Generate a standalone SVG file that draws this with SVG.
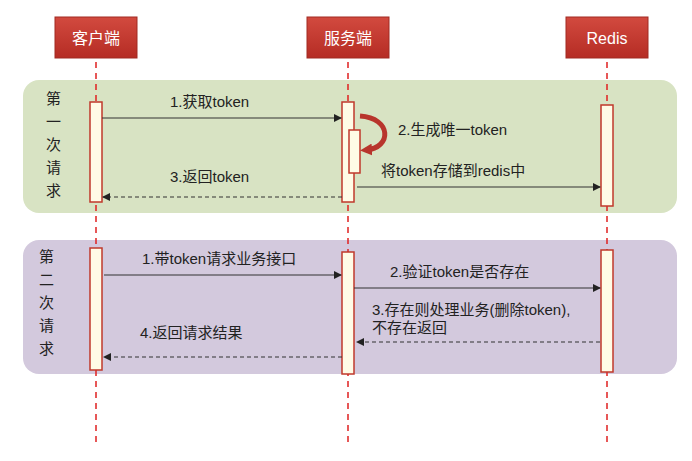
<svg xmlns="http://www.w3.org/2000/svg" width="692" height="461" viewBox="0 0 692 461">
<defs>
<linearGradient id="hg" x1="0" y1="0" x2="0" y2="1"><stop offset="0" stop-color="#d24a3f"/><stop offset="1" stop-color="#b52c24"/></linearGradient>
<marker id="ah" markerWidth="8" markerHeight="8" refX="7" refY="4" orient="auto" markerUnits="userSpaceOnUse"><path d="M0,0 L8,4 L0,8 Z" fill="#222"/></marker>
<marker id="rh" markerWidth="12" markerHeight="12" refX="6" refY="6" orient="auto" markerUnits="userSpaceOnUse"><path d="M0,0 L12,6 L0,12 Z" fill="#b8352c"/></marker>
</defs>
<style>
text{font-family:"Liberation Sans","Noto Sans CJK SC",sans-serif;font-size:15px;fill:#222}
.h{fill:#fff;font-size:16px}
.hd{fill:url(#hg);stroke:#a12a22}
.life{stroke:#e02020;stroke-width:1.5;stroke-dasharray:6,5}
.act{fill:#fffbe6;stroke:#c0392b;stroke-width:1.5}
.m{stroke:#333;stroke-width:1.2;fill:none}
.d{stroke:#333;stroke-width:1.2;stroke-dasharray:4,3;fill:none}
</style>
<rect width="692" height="461" fill="#fff"/>
<g id="phase1"><rect x="23" y="80" width="654" height="133" rx="16" fill="#d8e3c3"/>
<text x="46" y="104">第</text><text x="46" y="127">一</text><text x="46" y="150">次</text><text x="46" y="173">请</text><text x="46" y="196">求</text></g>
<g id="phase2"><rect x="23" y="240" width="654" height="134" rx="16" fill="#d3c9dd"/>
<text x="39" y="262">第</text><text x="39" y="285">二</text><text x="39" y="308">次</text><text x="39" y="331">请</text><text x="39" y="354">求</text></g>
<g id="lifelines">
<line class="life" x1="96" y1="62" x2="96" y2="445"/>
<line class="life" x1="348" y1="62" x2="348" y2="445"/>
<line class="life" x1="607" y1="62" x2="607" y2="445"/>
</g>
<g id="client"><rect class="hd" x="55" y="17" width="82" height="41"/><text class="h" x="96" y="44" text-anchor="middle">客户端</text></g>
<g id="server"><rect class="hd" x="307" y="17" width="82" height="41"/><text class="h" x="348" y="44" text-anchor="middle">服务端</text></g>
<g id="redis"><rect class="hd" x="566" y="17" width="82" height="41"/><text class="h" x="607" y="44" text-anchor="middle">Redis</text></g>
<g id="activations">
<rect class="act" x="90" y="102" width="12" height="100"/>
<rect class="act" x="342" y="102" width="12" height="100"/>
<rect class="act" x="349" y="130" width="11" height="43"/>
<rect class="act" x="601" y="105" width="12" height="101"/>
<rect class="act" x="90" y="248" width="12" height="122"/>
<rect class="act" x="342" y="252" width="12" height="122"/>
<rect class="act" x="601" y="250" width="12" height="122"/>
</g>
<g id="connectors">
<line class="m" x1="102" y1="118" x2="341" y2="118" marker-end="url(#ah)"/>
<path d="M360,116 C392,118 392,148 366,150" stroke="#b8352c" stroke-width="5" fill="none" marker-end="url(#rh)"/>
<line class="m" x1="357" y1="187" x2="600" y2="187" marker-end="url(#ah)"/>
<line class="d" x1="342" y1="197" x2="103" y2="197" marker-end="url(#ah)"/>
<line class="m" x1="104" y1="275" x2="341" y2="275" marker-end="url(#ah)"/>
<line class="m" x1="354" y1="288" x2="600" y2="288" marker-end="url(#ah)"/>
<line class="d" x1="600" y1="342" x2="357" y2="342" marker-end="url(#ah)"/>
<line class="d" x1="342" y1="357" x2="104" y2="357" marker-end="url(#ah)"/>
</g>
<g id="labels">
<text x="170" y="107">1.获取token</text>
<text x="398" y="135">2.生成唯一token</text>
<text x="381" y="176">将token存储到redis中</text>
<text x="170" y="182">3.返回token</text>
<text x="142" y="264">1.带token请求业务接口</text>
<text x="390" y="277">2.验证token是否存在</text>
<text x="372" y="315">3.存在则处理业务(删除token),</text>
<text x="372" y="333">不存在返回</text>
<text x="140" y="338">4.返回请求结果</text>
</g>
</svg>
